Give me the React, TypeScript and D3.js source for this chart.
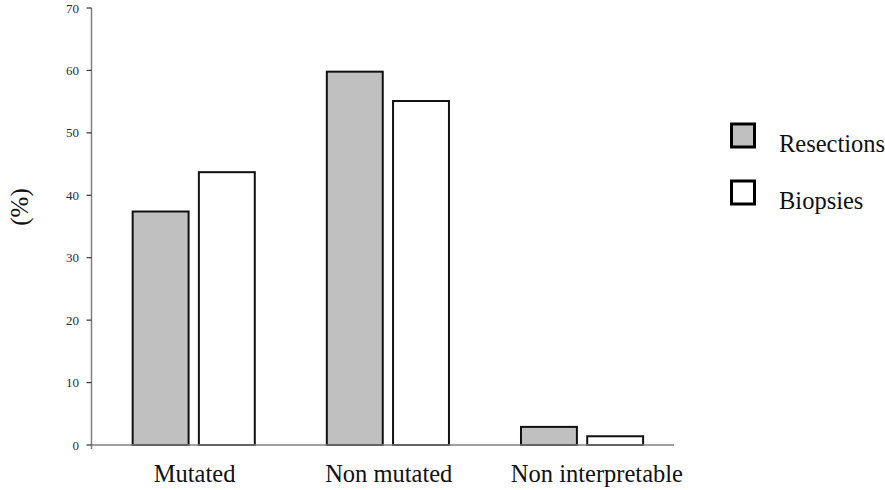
import React from "react";
import * as d3 from "d3";

const categories = ["Mutated", "Non mutated", "Non interpretable"];
const seriesNames = ["Resections", "Biopsies"];
const resections = [37.4, 59.8, 2.9];
const biopsies = [43.7, 55.1, 1.4];
const yTicks = [0, 10, 20, 30, 40, 50, 60, 70];
const seriesColors = ["#c0c0c0", "#ffffff"];

const W = 885;
const H = 490;
const left = 91.5;
const right = 674;
const top = 8;
const bottom = 445;

export default function App() {
  const x = d3.scaleBand<string>().domain(categories).range([left, right]).padding(0);
  const y = d3.scaleLinear().domain([0, 70]).range([bottom, top]);
  const step = x.bandwidth();
  const groupOffset = step * 0.212;
  const barW = step * 0.288;
  const gap = step * 0.053;
  const series = [resections, biopsies];
  const fontStyle = { fontFamily: "Liberation Serif" };

  return (
    <svg width={W} height={H} style={{ position: "absolute", left: 0, top: 0, background: "#fff" }}>
      {categories.map((c, i) =>
        series.map((s, j) => {
          const bx = (x(c) as number) + groupOffset + j * (barW + gap);
          return (
            <rect
              key={c + j}
              x={bx}
              y={y(s[i])}
              width={barW}
              height={bottom - y(s[i])}
              fill={seriesColors[j]}
              stroke="#111"
              strokeWidth={2}
            />
          );
        })
      )}
      <line x1={left} x2={left} y1={top} y2={bottom + 4} stroke="#808080" strokeWidth={1.5} />
      {yTicks.map((t) => (
        <g key={t}>
          <line x1={left - 5} x2={left} y1={y(t)} y2={y(t)} stroke="#333" strokeWidth={1.2} />
          <text
            x={left - 12.5}
            y={y(t)}
            dy="0.35em"
            textAnchor="end"
            style={fontStyle}
            fontSize={13}
            fill="#2a2a3a"
          >
            {t}
          </text>
        </g>
      ))}
      <line x1={left} x2={right} y1={bottom} y2={bottom} stroke="#808080" strokeWidth={1.5} />
      {categories.map((c) => (
        <text
          key={c}
          x={(x(c) as number) + step / 2 + (c === categories[2] ? 20 : 6)}
          y={482}
          textAnchor="middle"
          style={fontStyle}
          fontSize={24.5}
          fill="#111"
        >
          {c}
        </text>
      ))}
      <text
        transform={`translate(28,207) rotate(-90)`}
        textAnchor="middle"
        style={fontStyle}
        fontSize={25}
        fill="#111"
      >
        (%)
      </text>
      {seriesNames.map((n, j) => (
        <g key={n} transform={`translate(731.5,${124 + j * 57})`}>
          <rect x={0} y={0} width={23} height={23} fill={seriesColors[j]} stroke="#000" strokeWidth={3} />
          <text x={47.5} y={28} style={fontStyle} fontSize={24.5} fill="#111">
            {n}
          </text>
        </g>
      ))}
    </svg>
  );
}
